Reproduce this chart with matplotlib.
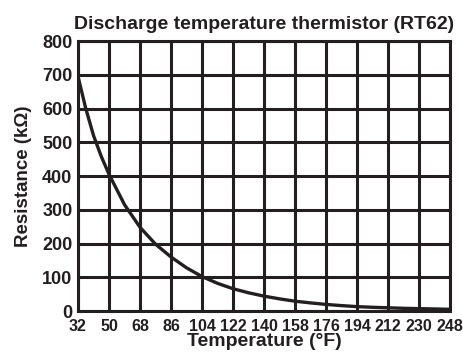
import matplotlib
matplotlib.use("Agg")
import matplotlib.pyplot as plt

# Resistance curve of the discharge thermistor (temperature in °F, resistance in kΩ)
temp_f = [32, 36.5, 41, 45.5, 50, 59, 68, 77, 86, 95, 104, 113, 122, 131, 140,
          149, 158, 167, 176, 185, 194, 203, 212, 221, 230, 239, 248]
resistance_k = [695, 600, 520, 458, 405, 315, 248, 198, 160, 128, 102, 82, 66,
                54, 44, 36, 29, 24, 19.5, 16, 13, 11, 9.5, 8, 7, 6, 5]

x_ticks = [32, 50, 68, 86, 104, 122, 140, 158, 176, 194, 212, 230, 248]
y_ticks = [0, 100, 200, 300, 400, 500, 600, 700, 800]

plt.rcParams["font.family"] = ["Liberation Sans", "DejaVu Sans"]
plt.rcParams["font.weight"] = "bold"

fig = plt.figure(figsize=(4.63, 3.56), dpi=100)
ax = fig.add_axes([0.1685, 0.1264, 0.8035, 0.7584])

ink = "#231f20"
ax.set_xlim(32, 248)
ax.set_ylim(0, 800)
ax.set_xticks(x_ticks)
ax.set_yticks(y_ticks)
ax.grid(True, color=ink, linewidth=2.2, zorder=1)
ax.set_axisbelow(True)
for side in ax.spines.values():
    side.set_color(ink)
    side.set_linewidth(2.2)

ax.plot(temp_f, resistance_k, color=ink, linewidth=2.4, zorder=3,
        solid_joinstyle="round")

ax.tick_params(axis="both", length=0)
ax.tick_params(axis="x", labelsize=11.5, pad=6)
ax.tick_params(axis="y", labelsize=13, pad=4)
for lab in ax.get_xticklabels() + ax.get_yticklabels():
    lab.set_fontweight("bold")
    lab.set_color(ink)

ax.set_title("Discharge temperature thermistor (RT62)", fontsize=14,
             fontweight="bold", color=ink, pad=9)
ax.set_xlabel("Temperature (°F)", fontsize=14, fontweight="bold",
              color=ink, labelpad=-1)
ax.set_ylabel("Resistance (kΩ)", fontsize=13.5, fontweight="bold",
              color=ink, labelpad=7)

fig.savefig("out.png", dpi=100)
